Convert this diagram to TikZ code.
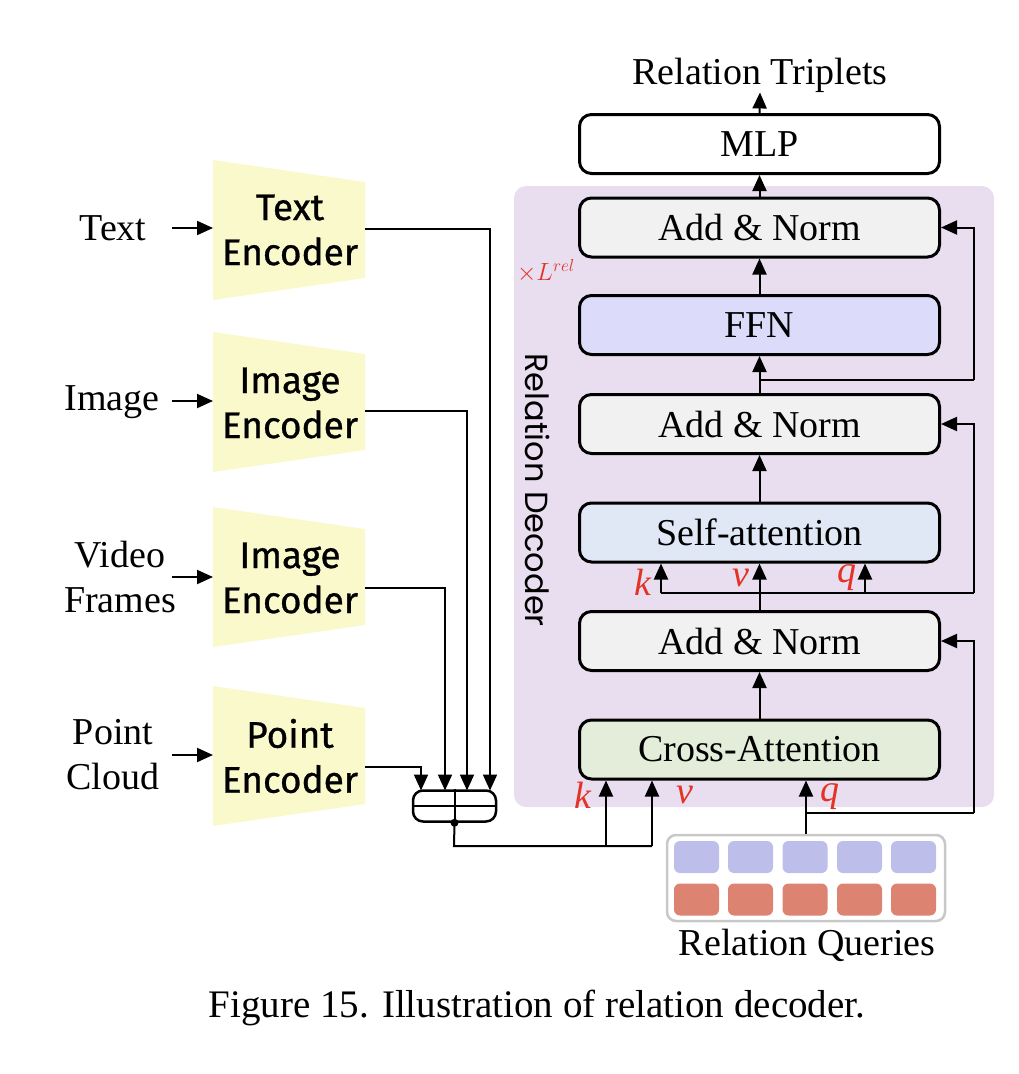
\documentclass[tikz,border=0pt]{standalone}
\usepackage{fontspec}
\setmainfont{Liberation Serif}
\newfontfamily\encfont[FakeBold=0.8]{Fira Sans}
\newfontfamily\decfont{Poppins}
\usetikzlibrary{arrows.meta,calc}
\definecolor{bgpurple}{RGB}{232,222,240}
\definecolor{encyellow}{RGB}{250,249,204}
\definecolor{addgray}{RGB}{241,241,241}
\definecolor{ffnblue}{RGB}{220,220,250}
\definecolor{sablue}{RGB}{225,232,245}
\definecolor{cagreen}{RGB}{227,237,217}
\definecolor{qblue}{RGB}{190,190,235}
\definecolor{qred}{RGB}{220,131,113}
\definecolor{qgray}{RGB}{200,200,200}
\definecolor{kvqred}{RGB}{228,50,36}
\begin{document}
\begin{tikzpicture}[x=1pt,y=-1pt,
  txt/.style={font=\fontsize{38}{45}\selectfont, inner sep=0pt, align=center},
  blk/.style={draw, line width=3pt, rounded corners=12pt, minimum width=360pt, minimum height=59pt, inner sep=0pt, font=\fontsize{38}{45}\selectfont},
  enc/.style={font=\encfont\fontsize{37}{45}\selectfont, inner sep=0pt, align=center},
  arr/.style={line width=2pt, -{Triangle[length=16pt,width=14pt]}},
  ln/.style={line width=2pt},
  kvq/.style={font=\fontsize{38}{45}\selectfont\itshape, text=kvqred, inner sep=0pt},
  cell/.style={rounded corners=6pt, minimum width=45pt, minimum height=32pt, inner sep=0pt}
]
\useasboundingbox (0,0) rectangle (1018,1074);

% decoder background
\fill[bgpurple, rounded corners=12pt] (514,186) rectangle (994,807);
\node[rotate=-90, font=\decfont\fontsize{32}{40}\selectfont, inner sep=0pt] (rdec) at (538,490) {Relation Decoder};
\node[font=\fontsize{25}{28}\selectfont, text=kvqred, inner sep=0pt] (times) at (546,271) {$\times L^{rel}$};

% decoder blocks
\node[txt] (rt) at (760,75) {Relation Triplets};
\node[blk, fill=white] (mlp) at (759.5,144) {MLP};
\node[blk, fill=addgray] (an3) at (759.5,227.5) {Add \& Norm};
\node[blk, fill=ffnblue] (ffn) at (759.5,325) {FFN};
\node[blk, fill=addgray] (an2) at (759.5,424) {Add \& Norm};
\node[blk, fill=sablue] (sa) at (759.5,532.5) {Self-attention};
\node[blk, fill=addgray] (an1) at (759.5,641) {Add \& Norm};
\node[blk, fill=cagreen] (ca) at (759.5,749.5) {Cross-Attention};

% vertical flow
\draw[arr] (mlp.north) -- (rt.south);
\draw[arr] (an3.north) -- (mlp.south);
\draw[arr] (ffn.north) -- (an3.south);
\draw[arr] (an2.north) -- (ffn.south);
\draw[arr] (sa.north) -- (an2.south);
\draw[arr] (an1.north) -- (sa.south);
\draw[arr] (ca.north) -- (an1.south);

% residual FFN
\coordinate (b1) at (759.5,380);
\coordinate (r1) at (974,380);
\draw[ln] (b1) -- (r1);
\draw[arr] (r1) |- (an3.east);

% self-attention inputs
\coordinate (sk) at (661,593);
\coordinate (sq) at (865,593);
\coordinate (r2) at (974,593);
\draw[ln] (sk) -- (r2);
\draw[arr] (sk) -- (sk |- sa.south);
\draw[arr] (sq) -- (sq |- sa.south);
\draw[arr] (r2) |- (an2.east);
\node[kvq] (k1) at (643,582) {k};
\node[kvq] (v1) at (741,578) {v};
\node[kvq] (q1) at (847,578) {q};

% relation queries
\node[draw=qgray, line width=2.5pt, rounded corners=9pt, minimum width=278pt, minimum height=86pt] (rq) at (806,878) {};
\foreach \i/\x in {1/696.5,2/750.5,3/805,4/859.5,5/913.5}{
  \node[cell, fill=qblue] (qb\i) at (\x,857) {};
  \node[cell, fill=qred] (qr\i) at (\x,899.5) {};
}
\node[txt] (rql) at (807,945) {Relation Queries};
\draw[arr] (rq.north) -- (rq.north |- ca.south);
\coordinate (b3) at (806,813);
\coordinate (r3) at (974,813);
\draw[ln] (b3) -- (r3);
\draw[arr] (r3) |- (an1.east);
\node[kvq] (k2) at (583,795) {k};
\node[kvq] (v2) at (685,795) {v};
\node[kvq] (q2) at (830,797) {q};

% concat
\node[draw, line width=2.5pt, rounded corners=10pt, minimum width=83pt, minimum height=31pt, inner sep=0pt] (cat) at (454.5,806) {};
\draw[ln] (cat.west) -- (cat.east);
\draw[ln] (cat.north) -- (cat.south);
\fill (cat.south) circle (4pt);
\coordinate (cb) at (454,846);
\coordinate (ck) at (606,846);
\coordinate (cv) at (652,846);
\draw[ln] (cat.south) -- (cb) -- (cv);
\draw[arr] (ck) -- (ck |- ca.south);
\draw[arr] (cv) -- (cv |- ca.south);

% encoders
\foreach \c in {230,402,577,756}{
  \fill[encyellow] (213,\c-70) -- (365,\c-48) -- (365,\c+48) -- (213,\c+70) -- cycle;
}
\node[enc] (e1) at (290,230) {Text\\Encoder};
\node[enc] (e2) at (290,403) {Image\\Encoder};
\node[enc] (e3) at (290,578) {Image\\Encoder};
\node[enc] (e4) at (290,756) {Point\\Encoder};

\node[txt] (i1) at (113,228) {Text};
\node[txt] (i2) at (112,402) {Image};
\node[txt] (i3) at (120,577) {Video\\Frames};
\node[txt] (i4) at (113,755) {Point\\Cloud};

\coordinate (a1) at (172,228); \coordinate (t1) at (213,228);
\coordinate (a2) at (172,401); \coordinate (t2) at (213,401);
\coordinate (a3) at (172,577); \coordinate (t3) at (213,577);
\coordinate (a4) at (172,755); \coordinate (t4) at (213,755);
\draw[arr] (a1) -- (t1);
\draw[arr] (a2) -- (t2);
\draw[arr] (a3) -- (t3);
\draw[arr] (a4) -- (t4);

\coordinate (o1) at (365,229); \coordinate (d1) at (490,790.5);
\coordinate (o2) at (365,411); \coordinate (d2) at (467,790.5);
\coordinate (o3) at (365,588); \coordinate (d3) at (445,790.5);
\coordinate (o4) at (365,767); \coordinate (d4) at (421,790.5);
\draw[arr] (o1) -| (d1);
\draw[arr] (o2) -| (d2);
\draw[arr] (o3) -| (d3);
\draw[arr] (o4) -| (d4);

\node[font=\fontsize{39}{45}\selectfont, inner sep=0pt] (cap) at (537,1008) {Figure 15. Illustration of relation decoder.};
\end{tikzpicture}
\end{document}
